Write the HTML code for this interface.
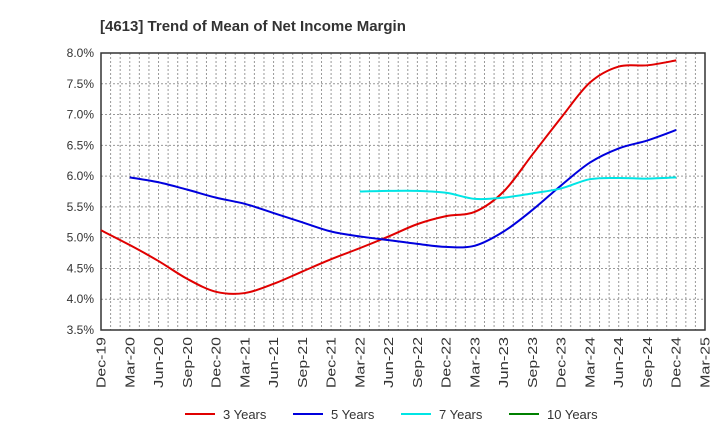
<!DOCTYPE html>
<html><head><meta charset="utf-8">
<style>
body{margin:0;background:#fff;font-family:"Liberation Sans",sans-serif;}
svg{display:block}
</style></head>
<body>
<svg id="c" width="720" height="440" xmlns="http://www.w3.org/2000/svg">
<text x="100" y="31" font-size="15" font-weight="bold" fill="#333">[4613]  Trend of Mean of Net Income Margin</text>
<g id="grid"></g>
<g id="axes"></g>
<g id="series"></g>
<g id="legend"></g>
</svg>
<script>
const xLabels=["Dec-19","Mar-20","Jun-20","Sep-20","Dec-20","Mar-21","Jun-21","Sep-21","Dec-21","Mar-22","Jun-22","Sep-22","Dec-22","Mar-23","Jun-23","Sep-23","Dec-23","Mar-24","Jun-24","Sep-24","Dec-24","Mar-25"];
const yTicks=[3.5,4.0,4.5,5.0,5.5,6.0,6.5,7.0,7.5,8.0];
const s3=[5.12,4.88,4.62,4.33,4.12,4.10,4.25,4.45,4.65,4.83,5.02,5.22,5.35,5.42,5.75,6.35,6.95,7.52,7.78,7.80,7.88];
const s5=[null,5.98,5.90,5.78,5.65,5.55,5.40,5.25,5.10,5.02,4.96,4.90,4.85,4.87,5.10,5.45,5.85,6.22,6.45,6.58,6.75];
const s7=[null,null,null,null,null,null,null,null,null,5.75,5.76,5.76,5.73,5.63,5.65,5.72,5.80,5.95,5.97,5.96,5.98];
const s10=[];
const names=["3 Years","5 Years","7 Years","10 Years"];
const colors=["#e00000","#0000dd","#00e5e5","#008000"];

const L=101,R=705,T=53,B=330;
const NS="http://www.w3.org/2000/svg";
const X=i=>L+(R-L)*i/(xLabels.length-1);
const Y=v=>B-(B-T)*(v-3.5)/(8.0-3.5);
function mk(tag,a,p){const e=document.createElementNS(NS,tag);for(const k in a)e.setAttribute(k,a[k]);p.appendChild(e);return e;}
const grid=document.getElementById('grid'),axes=document.getElementById('axes'),ser=document.getElementById('series'),leg=document.getElementById('legend');
for(let m=1;m<(xLabels.length-1)*3;m++){const x=L+(R-L)*m/((xLabels.length-1)*3);
 const g=mk('line',{x1:x,x2:x,y1:T,y2:B,stroke:'#999','stroke-dasharray':'2,2','stroke-width':1},grid);
 
 }
yTicks.forEach(v=>{const y=Y(v);
 const g=mk('line',{x1:L,x2:R,y1:y,y2:y,stroke:'#999','stroke-dasharray':'2,2','stroke-width':1},grid);
 
 
 const t=mk('text',{x:L-7,y:y+4,'text-anchor':'end','font-size':12,fill:'#333'},axes);t.textContent=v.toFixed(1)+'%';
 
 });
const fr=mk('rect',{x:L,y:T,width:R-L,height:B-T,fill:'none',stroke:'#333','stroke-width':1.5},axes);


xLabels.forEach((l,i)=>{const x=X(i);
 const t=mk('text',{transform:`translate(${x+4.5},${B+7}) rotate(-90)`,'text-anchor':'end','font-size':13,fill:'#333',textLength:l.length>=6?51:50,lengthAdjust:'spacingAndGlyphs'},axes);t.textContent=l;
 
 });
function path(arr){const pts=[];arr.forEach((v,i)=>{if(v!=null)pts.push([X(i),Y(v)]);});
 if(pts.length<2)return '';let d=`M${pts[0][0]},${pts[0][1]}`;
 for(let i=0;i<pts.length-1;i++){const p0=pts[Math.max(i-1,0)],p1=pts[i],p2=pts[i+1],p3=pts[Math.min(i+2,pts.length-1)];
  d+=` C${p1[0]+(p2[0]-p0[0])/6},${p1[1]+(p2[1]-p0[1])/6} ${p2[0]-(p3[0]-p1[0])/6},${p2[1]-(p3[1]-p1[1])/6} ${p2[0]},${p2[1]}`;}
 return d;}
[s3,s5,s7,s10].forEach((s,k)=>{const d=path(s);if(!d)return;
 const p=mk('path',{d:d,fill:'none',stroke:colors[k],'stroke-width':2},ser);
 
 });
const lx=[185,293,401,509];
names.forEach((n,k)=>{
 const g=mk('g',{},leg);
 
 
 mk('line',{x1:lx[k],x2:lx[k]+30,y1:414,y2:414,stroke:colors[k],'stroke-width':2},g);
 const t=mk('text',{x:lx[k]+38,y:419,'font-size':13,fill:'#333'},g);t.textContent=n;});
</script>
</body></html>
